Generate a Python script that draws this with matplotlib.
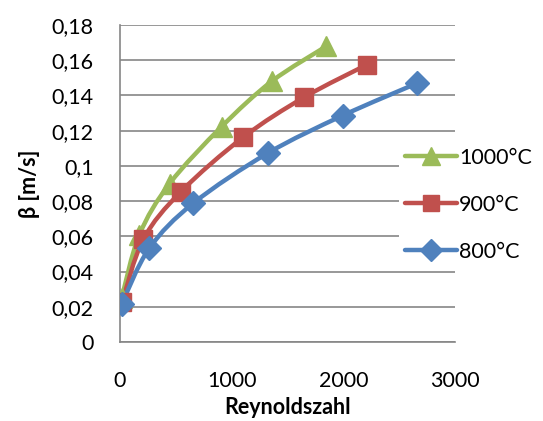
import numpy as np
import matplotlib
matplotlib.use('Agg')
import matplotlib.pyplot as plt
from matplotlib.path import Path
from matplotlib.patches import PathPatch
from matplotlib.lines import Line2D
from matplotlib.ticker import FuncFormatter, MultipleLocator

# Mass transfer coefficient vs. Reynolds number for three temperatures

re_1000 = [15, 173, 445, 910, 1358, 1844]
beta_1000 = [0.025, 0.0608, 0.090, 0.1223, 0.148, 0.1678]

re_900 = [20, 209, 546, 1104, 1650, 2209]
beta_900 = [0.0229, 0.0583, 0.0854, 0.1163, 0.139, 0.1574]

re_800 = [15, 262, 656, 1322, 1994, 2663]
beta_800 = [0.0216, 0.0532, 0.0788, 0.1072, 0.1286, 0.147]

labels = ['1000°C', '900°C', '800°C']
colors = ['#9BBB59', '#C0504D', '#4F81BD']
markers = ['^', 's', 'D']
marker_sizes = [14, 13, 12]

plt.rcParams['font.family'] = ['Lato', 'DejaVu Sans']


def smooth_path(x, y):
    """Build a cubic Bezier path through the points (Catmull-Rom style)."""
    pts = np.column_stack([x, y]).astype(float)
    verts = [pts[0]]
    codes = [Path.MOVETO]
    n = len(pts)
    for i in range(n - 1):
        p0 = pts[i - 1] if i > 0 else pts[i]
        p1 = pts[i]
        p2 = pts[i + 1]
        p3 = pts[i + 2] if i + 2 < n else pts[i + 1]
        c1 = p1 + (p2 - p0) / 6.0
        c2 = p2 - (p3 - p1) / 6.0
        verts += [c1, c2, p2]
        codes += [Path.CURVE4] * 3
    return Path(verts, codes)


def comma_fmt(v, pos):
    if v == 0:
        return '0'
    return f'{v:.2f}'.rstrip('0').rstrip('.').replace('.', ',')


fig = plt.figure(figsize=(5.43, 4.21), dpi=100)
ax = fig.add_axes([0.221, 0.1876, 0.617, 0.753])

series = [(re_1000, beta_1000), (re_900, beta_900), (re_800, beta_800)]
handles = []
for (xs, ys), lab, col, mk, ms in zip(series, labels, colors, markers, marker_sizes):
    patch = PathPatch(smooth_path(xs, ys), facecolor='none', edgecolor=col,
                      linewidth=3.2, capstyle='round', joinstyle='round', zorder=3)
    ax.add_patch(patch)
    ax.plot(xs, ys, linestyle='none', marker=mk, markersize=ms, color=col,
            markeredgecolor=col, zorder=4)
    handles.append(Line2D([], [], color=col, linewidth=3.2, marker=mk,
                          markersize=ms - 1, solid_capstyle='round', label=lab))

ax.set_xlim(0, 3000)
ax.set_ylim(0, 0.18)
ax.xaxis.set_major_locator(MultipleLocator(1000))
ax.yaxis.set_major_locator(MultipleLocator(0.02))
ax.yaxis.set_major_formatter(FuncFormatter(comma_fmt))

ax.grid(axis='y', color='#868686', linewidth=1.2, zorder=0)
ax.set_axisbelow(True)
for side in ['top', 'right']:
    ax.spines[side].set_visible(False)
for side in ['left', 'bottom']:
    ax.spines[side].set_color('#868686')
    ax.spines[side].set_linewidth(1.2)
ax.tick_params(length=0, labelsize=15.5, colors='black')
ax.tick_params(axis='y', pad=19)
ax.tick_params(axis='x', pad=21)

ax.set_xlabel('Reynoldszahl', fontsize=15.5, fontweight='bold', labelpad=4)
ax.set_ylabel('β [m/s]', fontsize=15.5, fontweight='bold', labelpad=8)

leg = fig.legend(handles=handles, loc='upper left', bbox_to_anchor=(0.715, 0.69),
                 fontsize=15.5, frameon=True, facecolor='white', edgecolor='none',
                 framealpha=1, handlelength=2.4, handletextpad=0.1,
                 labelspacing=1.25, borderpad=0.3)

fig.savefig('out.png', dpi=100)
